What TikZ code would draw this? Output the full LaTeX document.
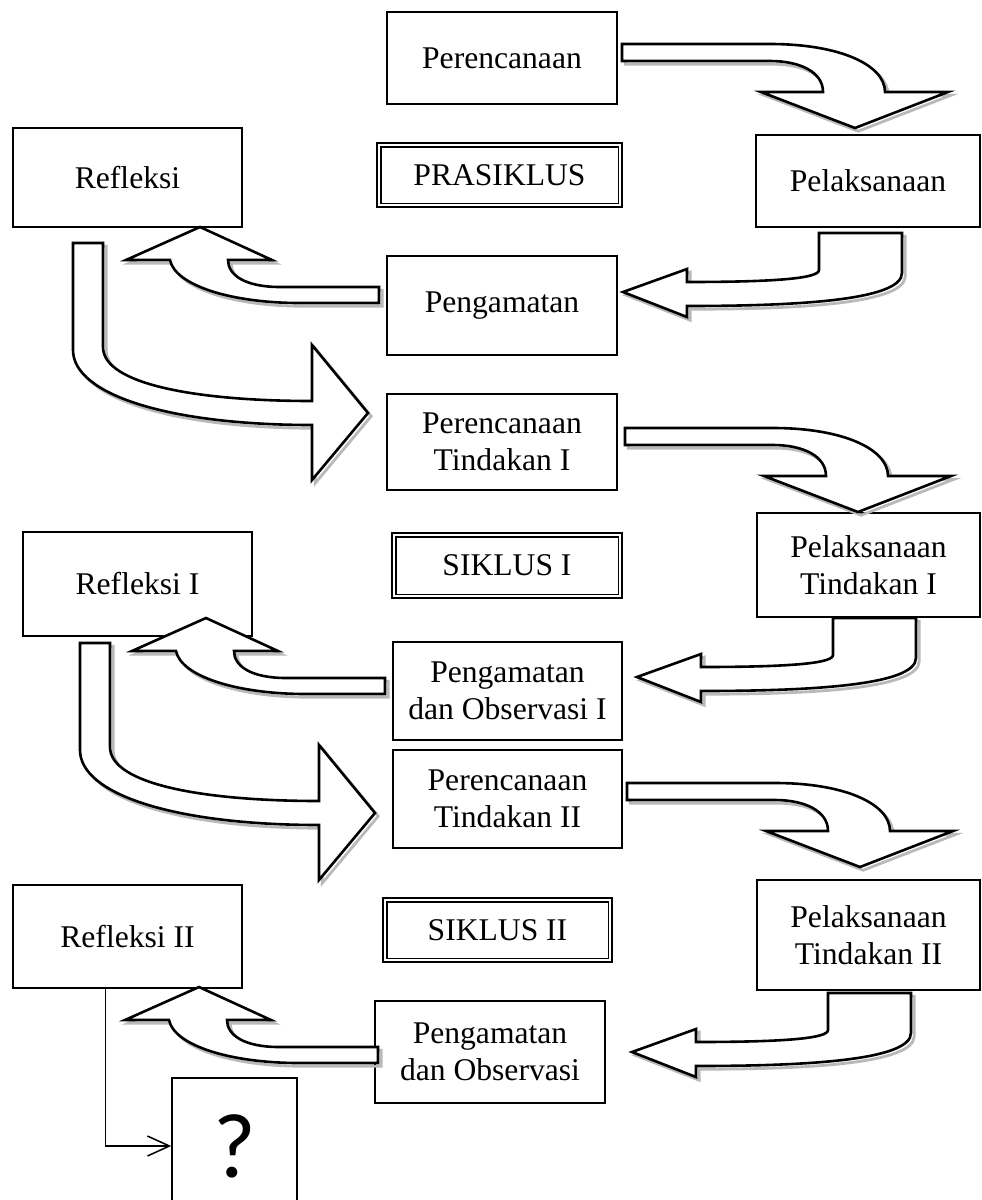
\documentclass[tikz,border=0pt]{standalone}
\usepackage{fontspec}
\setmainfont{Liberation Serif}
\newfontfamily\qfont{Carlito}
\usetikzlibrary{arrows.meta, positioning}
\definecolor{shade}{RGB}{185, 185, 185}

\begin{document}
\begin{tikzpicture}[x=0.5pt, y=-0.5pt,
    box/.style={draw, line width=0.75pt, inner sep=0pt, align=center, font=\fontsize{15.8}{18.5}\selectfont},
    cyclebox/.style={box, line width=1.1pt},
    blockarrow/.style={draw, fill=white, line width=1.3pt, line join=miter,
      preaction={draw=shade, line width=1.4pt, transform canvas={shift={(1.6pt,-1.6pt)}}}},
    bendright/.pic={\draw[blockarrow] (0,0) -- (148,0) .. controls (218,0) and (263,21) .. (263,48)
      -- (326,48) -- (233,84) -- (139,48) -- (201,48) .. controls (201,28) and (178,17) .. (148,17) -- (0,17) -- cycle;},
    bendleft/.pic={\draw[blockarrow] (0,0) -- (83,0) -- (83,40) .. controls (83,67) and (-19,73) .. (-132,73)
      -- (-132,84) -- (-196,59) -- (-132,36) -- (-132,49) .. controls (-39,49) and (0,45) .. (0,37) -- cycle;},
    bendup/.pic={\draw[blockarrow] (0,0) -- (-99,0) .. controls (-134,0) and (-151,-12) .. (-151,-27)
      -- (-107,-27) -- (-179,-60) -- (-253,-27) -- (-209,-27) .. controls (-204,-2) and (-149,16) .. (-79,16) -- (0,16) -- cycle;},
    bendout/.pic={\draw[blockarrow] (0,0) -- (30,0) -- (30,104) .. controls (30,142) and (127,158) .. (239,158)
      -- (239,102) -- (295,170) -- (239,237) -- (239,182) .. controls (97,182) and (0,152) .. (0,107) -- cycle;}]
  \useasboundingbox (0,0) rectangle (981,1200);

  % prasiklus
  \node[box, minimum width=115pt, minimum height=46pt] (p0) at (502,58) {Perencanaan};
  \node[box, minimum width=114.5pt, minimum height=49.5pt] (r0) at (127.5,177.5) {Refleksi};
  \node[cyclebox, minimum width=122.5pt, minimum height=32pt] (s0) at (499.5,175) {PRASIKLUS};
  \node[box, minimum width=112pt, minimum height=46pt] (l0) at (868,181) {Pelaksanaan};
  \node[box, minimum width=115pt, minimum height=49.5pt] (o0) at (502,305.5) {Pengamatan};
  \pic at (622,44) {bendright};
  \pic at (819,233) {bendleft};
  \pic at (379,287) {bendup};
  \pic at (73,243) {bendout};

  % siklus I
  \node[box, minimum width=115pt, minimum height=48pt] (p1) at (502,442) {Perencanaan\\Tindakan I};
  \node[box, minimum width=114.5pt, minimum height=52pt] (r1) at (137.5,584) {Refleksi I};
  \node[cyclebox, minimum width=115pt, minimum height=32.5pt] (s1) at (507,565.5) {SIKLUS I};
  \node[box, minimum width=111.5pt, minimum height=52pt] (l1) at (868.5,565) {Pelaksanaan\\Tindakan I};
  \node[box, minimum width=114.5pt, minimum height=49pt] (o1) at (507.5,691) {Pengamatan\\dan Observasi I};
  \pic at (625,428) {bendright};
  \pic at (833,618) {bendleft};
  \pic at (385,678) {bendup};
  \pic at (80,643) {bendout};

  % siklus II
  \node[box, minimum width=114.5pt, minimum height=49pt] (p2) at (507.5,799) {Perencanaan\\Tindakan II};
  \node[box, minimum width=114.5pt, minimum height=51.5pt] (r2) at (127.5,936.5) {Refleksi II};
  \node[cyclebox, minimum width=114.5pt, minimum height=32pt] (s2) at (497.5,930) {SIKLUS II};
  \node[box, minimum width=111.5pt, minimum height=55pt] (l2) at (868.5,935) {Pelaksanaan\\Tindakan II};
  \node[box, minimum width=115pt, minimum height=51pt] (o2) at (490,1052) {Pengamatan\\dan Observasi};
  \pic at (627,783) {bendright};
  \pic at (828,993) {bendleft};
  \pic at (378,1047) {bendup};

  \foreach \n in {s0,s1,s2}
    \draw[line width=0.6pt] ([shift={(2.5pt,-2.5pt)}]\n.north west) rectangle ([shift={(-2.5pt,2.5pt)}]\n.south east);

  \node[box, minimum width=62.5pt, minimum height=68pt, font=\qfont\fontsize{46}{50}\selectfont] (q) at (234.5,1146) {?};
  \draw[-{Straight Barb[length=11pt,width=10pt]}, line width=0.75pt] ([xshift=-11pt]r2.south) |- (q.west);
\end{tikzpicture}
\end{document}
